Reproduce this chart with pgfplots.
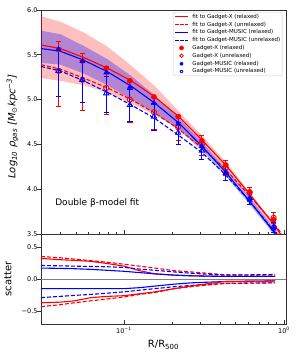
\documentclass[border=0pt]{standalone}
\usepackage{fontspec}
\setmainfont{DejaVu Sans}
\usepackage{pgfplots}
\pgfplotsset{compat=1.18}
\definecolor{mred}{RGB}{255,0,0}
\definecolor{mblue}{RGB}{0,0,255}
\tikzset{
  fitline/.style={line width=1.1pt},
  dashline/.style={line width=1.1pt, dash pattern=on 4pt off 2pt},
}
\begin{document}
\begin{tikzpicture}
\useasboundingbox (-41pt,-31pt) rectangle (259pt,324pt);
% ---------------- top panel ----------------
\begin{axis}[at={(0pt,90pt)}, height=224pt,
  scale only axis, width=245pt, xmode=log, xmin=0.0303, xmax=1.03,
  axis line style={black!80, line width=0.7pt},
  tick style={black!80, line width=0.6pt},
  tick align=inside, major tick length=3.5pt, minor tick length=2pt,
  xtick pos=bottom, ytick pos=left,
  ytick style={xshift=-3.5pt},
  ticklabel style={font=\fontsize{6.5}{7}\selectfont},
  label style={font=\fontsize{8.5}{10}\selectfont},
  ymin=3.5, ymax=6.0, ytick={3.5,4,4.5,5,5.5,6},
  yticklabels={3.5,4.0,4.5,5.0,5.5,6.0},
  xticklabels={},
  ylabel={\itshape Log\textsubscript{10} ρ\textsubscript{gas} [M\textsubscript{\upshape ⊙}kpc\textsuperscript{−3}]},
  every axis y label/.style={at={(rel axis cs:-0.078,0.48)}, rotate=90, anchor=south},
  legend style={at={(rel axis cs:0.985,0.991)}, anchor=north east,
    font=\fontsize{5.5}{6.5}\selectfont, draw=black!20, rounded corners=1.5pt,
    inner sep=1.2pt, row sep=1.1pt, cells={anchor=west},
    nodes={inner sep=0.6pt, text height=4.3pt, text depth=1.2pt},
    /tikz/every odd column/.append style={column sep=3.5pt}},
]
% legend
\addlegendimage{legend image code/.code={\draw[draw=mred, line width=1pt] (0pt,0pt) -- (12.6pt,0pt);}}
\addlegendentry{fit to Gadget-X (relaxed)}
\addlegendimage{legend image code/.code={\draw[draw=mred, line width=1pt, dash pattern=on 3.5pt off 1.5pt] (0pt,0pt) -- (12.6pt,0pt);}}
\addlegendentry{fit to Gadget-X (unrelaxed)}
\addlegendimage{legend image code/.code={\draw[draw=mblue, line width=1pt] (0pt,0pt) -- (12.6pt,0pt);}}
\addlegendentry{fit to Gadget-MUSIC (relaxed)}
\addlegendimage{legend image code/.code={\draw[draw=mblue, line width=1pt, dash pattern=on 3.5pt off 1.5pt] (0pt,0pt) -- (12.6pt,0pt);}}
\addlegendentry{fit to Gadget-MUSIC (unrelaxed)}
\addlegendimage{legend image code/.code={\path[draw=none, fill=none] (0pt,0pt) -- (12.6pt,0pt); \fill[mred] (6.3pt,0pt) circle[radius=2.1pt];}}
\addlegendentry{Gadget-X (relaxed)}
\addlegendimage{legend image code/.code={\path[draw=none, fill=none] (0pt,0pt) -- (12.6pt,0pt); \draw[mred, line width=0.8pt] (6.3pt,0pt) circle[radius=1.8pt];}}
\addlegendentry{Gadget-X (unrelaxed)}
\addlegendimage{legend image code/.code={\path[draw=none, fill=none] (0pt,0pt) -- (12.6pt,0pt); \fill[mblue] (3.9pt,-1.6pt) -- (8.7pt,-1.6pt) -- (6.3pt,2.5pt) -- cycle;}}
\addlegendentry{Gadget-MUSIC (relaxed)}
\addlegendimage{legend image code/.code={\path[draw=none, fill=none] (0pt,0pt) -- (12.6pt,0pt); \draw[mblue, line width=0.8pt] (4.2pt,-1.4pt) -- (8.4pt,-1.4pt) -- (6.3pt,2.2pt) -- cycle;}}
\addlegendentry{Gadget-MUSIC (unrelaxed)}
% red scatter band (relaxed)
\addplot[draw=none, fill=mred, fill opacity=0.25, forget plot] coordinates {
 (0.0303,5.93) (0.04,5.87) (0.056,5.75) (0.079,5.59) (0.111,5.38) (0.156,5.15)
 (0.22,4.87) (0.307,4.60) (0.432,4.305) (0.601,3.98) (0.843,3.64) (0.89,3.59) (0.95,3.51)
 (0.95,3.44) (0.89,3.52) (0.843,3.57) (0.601,3.905) (0.432,4.21) (0.307,4.46) (0.22,4.67)
 (0.156,4.83) (0.111,4.955) (0.079,5.08) (0.056,5.16) (0.04,5.21) (0.0303,5.24)};
% blue scatter band (relaxed)
\addplot[draw=none, fill=mblue, fill opacity=0.3, forget plot] coordinates {
 (0.0303,5.77) (0.04,5.73) (0.056,5.60) (0.079,5.45) (0.111,5.265) (0.156,5.045)
 (0.22,4.795) (0.307,4.525) (0.432,4.23) (0.601,3.92) (0.843,3.59) (0.89,3.53) (0.95,3.48)
 (0.95,3.41) (0.89,3.46) (0.843,3.52) (0.601,3.845) (0.432,4.15) (0.307,4.43) (0.22,4.67)
 (0.156,4.85) (0.111,5.00) (0.079,5.16) (0.056,5.29) (0.04,5.39) (0.0303,5.41)};
% fit lines
\addplot[fitline, color=mred, forget plot] coordinates {
 (0.0303,5.61) (0.04,5.57) (0.056,5.47) (0.079,5.35) (0.111,5.21) (0.156,5.03)
 (0.22,4.81) (0.307,4.55) (0.432,4.27) (0.601,3.96) (0.843,3.63) (0.89,3.58) (0.95,3.50) (1.0,3.45)};
\addplot[dashline, color=mred, forget plot] coordinates {
 (0.0303,5.39) (0.04,5.34) (0.056,5.24) (0.079,5.13) (0.111,5.00) (0.156,4.85)
 (0.22,4.67) (0.307,4.46) (0.432,4.22) (0.601,3.94) (0.843,3.64) (0.89,3.59) (0.95,3.52) (1.03,3.44)};
\addplot[fitline, color=mblue, forget plot] coordinates {
 (0.0303,5.57) (0.04,5.54) (0.056,5.44) (0.079,5.31) (0.111,5.15) (0.156,4.96)
 (0.22,4.74) (0.307,4.48) (0.432,4.19) (0.601,3.88) (0.843,3.55) (0.89,3.49) (0.95,3.43)};
\addplot[dashline, color=mblue, forget plot] coordinates {
 (0.0303,5.37) (0.04,5.32) (0.056,5.21) (0.079,5.08) (0.111,4.94) (0.156,4.79)
 (0.22,4.60) (0.307,4.41) (0.432,4.16) (0.601,3.88) (0.843,3.56) (0.89,3.51) (0.95,3.44)};
% data points
\addplot[only marks, forget plot, color=mred, mark=*, mark size=2.6pt, mark options={fill=mred, draw=mred}] coordinates {
 (0.039,5.56) (0.055,5.43) (0.0775,5.35) (0.109,5.21) (0.154,5.03) (0.218,4.81)
 (0.307,4.54) (0.433,4.27) (0.611,3.97) (0.862,3.66)};
\addplot[only marks, forget plot, color=mred, mark=o, mark size=2.6pt, mark options={draw=mred, line width=0.9pt},
  error bars/.cd, y dir=both, y explicit,
  error bar style={line width=0.9pt, mred},
  error mark options={rotate=90, mark size=2.6pt, line width=0.9pt, mred}] coordinates {
 (0.039,5.32) += (0,0.33) -= (0,0.40)
 (0.055,5.22) += (0,0.29) -= (0,0.34)
 (0.0775,5.13) += (0,0.24) -= (0,0.30)
 (0.109,5.00) += (0,0.20) -= (0,0.25)
 (0.154,4.86) += (0,0.16) -= (0,0.19)
 (0.218,4.69) += (0,0.13) -= (0,0.15)
 (0.307,4.50) += (0,0.10) -= (0,0.12)
 (0.433,4.24) += (0,0.08) -= (0,0.09)
 (0.611,3.96) += (0,0.06) -= (0,0.07)
 (0.862,3.68) += (0,0.06) -= (0,0.06)};
\addplot[only marks, forget plot, color=mblue, mark=triangle*, mark size=3pt, mark options={fill=mblue, draw=mblue}] coordinates {
 (0.039,5.56) (0.055,5.43) (0.0775,5.30) (0.109,5.14) (0.154,4.96) (0.218,4.73)
 (0.307,4.48) (0.433,4.19) (0.611,3.88) (0.862,3.56)};
\addplot[only marks, forget plot, color=mblue, mark=triangle, mark size=3pt, mark options={draw=mblue, line width=0.9pt},
  error bars/.cd, y dir=both, y explicit,
  error bar style={line width=0.9pt, mblue},
  error mark options={rotate=90, mark size=2.6pt, line width=0.9pt, mblue}] coordinates {
 (0.039,5.32) += (0,0.25) -= (0,0.28)
 (0.055,5.22) += (0,0.22) -= (0,0.25)
 (0.0775,5.07) += (0,0.19) -= (0,0.21)
 (0.109,4.94) += (0,0.17) -= (0,0.18)
 (0.154,4.81) += (0,0.15) -= (0,0.15)
 (0.218,4.63) += (0,0.12) -= (0,0.13)
 (0.307,4.43) += (0,0.10) -= (0,0.10)
 (0.433,4.18) += (0,0.08) -= (0,0.08)
 (0.611,3.90) += (0,0.06) -= (0,0.07)
 (0.862,3.58) += (0,0.05) -= (0,0.06)};
\node[anchor=west, font=\fontsize{9}{10}\selectfont] at (rel axis cs:0.044,0.137) {Double β-model fit};
\end{axis}
% ---------------- bottom panel ----------------
\begin{axis}[at={(0pt,0pt)}, height=90pt,
  scale only axis, width=245pt, xmode=log, xmin=0.0303, xmax=1.03,
  axis line style={black!80, line width=0.7pt},
  tick style={black!80, line width=0.6pt},
  tick align=inside, major tick length=3.5pt, minor tick length=2pt,
  xtick pos=bottom, ytick pos=left,
  ytick style={xshift=-3.5pt},
  ticklabel style={font=\fontsize{6.5}{7}\selectfont},
  label style={font=\fontsize{8.5}{10}\selectfont},
  ymin=-0.7, ymax=0.7, ytick={-0.5,0,0.5}, yticklabels={−0.5,0.0,0.5},
  xtick={0.1,1}, xticklabels={10\textsuperscript{−1},10\textsuperscript{0}},
  ylabel={scatter}, xlabel={R/R\textsubscript{500}},
  every axis y label/.style={at={(rel axis cs:-0.106,0.5)}, rotate=90, anchor=south},
  every axis x label/.style={at={(rel axis cs:0.5,0)}, anchor=north, yshift=-13pt},
]
\addplot[black!50, line width=0.9pt, forget plot] coordinates {(0.0303,0) (1.03,0)};
% upper scatter
\addplot[dashline, color=mred] coordinates {(0.0303,0.35) (0.04,0.33) (0.049,0.31) (0.062,0.285) (0.079,0.26) (0.1,0.23) (0.125,0.20) (0.156,0.17) (0.206,0.13) (0.263,0.11) (0.33,0.09) (0.424,0.067) (0.6,0.06) (0.88,0.06)};
\addplot[fitline, color=mred] coordinates {(0.0303,0.32) (0.04,0.30) (0.049,0.29) (0.062,0.275) (0.079,0.24) (0.1,0.20) (0.125,0.13) (0.156,0.08) (0.206,0.06) (0.263,0.05) (0.33,0.045) (0.424,0.04) (0.6,0.04) (0.88,0.04)};
\addplot[dashline, color=mblue] coordinates {(0.0303,0.21) (0.04,0.205) (0.049,0.20) (0.062,0.195) (0.079,0.19) (0.1,0.18) (0.125,0.155) (0.156,0.135) (0.206,0.11) (0.263,0.09) (0.33,0.075) (0.424,0.06) (0.6,0.065) (0.88,0.07)};
\addplot[fitline, color=mblue] coordinates {(0.0303,0.17) (0.04,0.165) (0.049,0.16) (0.062,0.15) (0.079,0.135) (0.1,0.12) (0.125,0.10) (0.156,0.08) (0.206,0.06) (0.263,0.05) (0.33,0.045) (0.424,0.04) (0.6,0.04) (0.88,0.04)};
% lower scatter
\addplot[fitline, color=mblue] coordinates {(0.0303,-0.15) (0.04,-0.15) (0.049,-0.15) (0.062,-0.15) (0.079,-0.15) (0.1,-0.15) (0.125,-0.135) (0.156,-0.11) (0.206,-0.08) (0.263,-0.06) (0.33,-0.05) (0.424,-0.04) (0.6,-0.035) (0.88,-0.03)};
\addplot[dashline, color=mblue] coordinates {(0.0303,-0.29) (0.04,-0.27) (0.049,-0.255) (0.062,-0.24) (0.079,-0.22) (0.1,-0.20) (0.125,-0.175) (0.156,-0.15) (0.206,-0.12) (0.263,-0.10) (0.33,-0.085) (0.424,-0.07) (0.6,-0.065) (0.88,-0.06)};
\addplot[fitline, color=mred] coordinates {(0.0303,-0.37) (0.04,-0.36) (0.049,-0.34) (0.062,-0.29) (0.079,-0.27) (0.1,-0.26) (0.125,-0.23) (0.156,-0.20) (0.206,-0.15) (0.263,-0.11) (0.33,-0.075) (0.424,-0.04) (0.6,-0.035) (0.88,-0.03)};
\addplot[dashline, color=mred] coordinates {(0.0303,-0.43) (0.04,-0.40) (0.049,-0.37) (0.062,-0.34) (0.079,-0.31) (0.1,-0.28) (0.125,-0.24) (0.156,-0.21) (0.206,-0.15) (0.263,-0.12) (0.33,-0.095) (0.424,-0.07) (0.6,-0.06) (0.88,-0.06)};
\end{axis}
\end{tikzpicture}
\end{document}
